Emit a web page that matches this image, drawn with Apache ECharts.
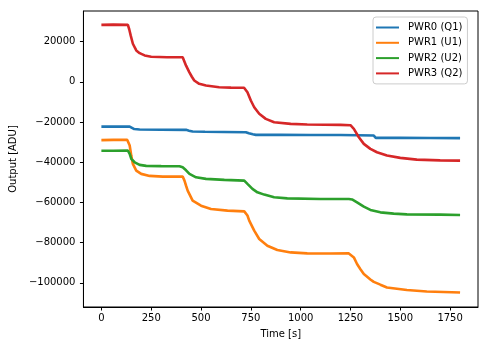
<!DOCTYPE html>
<html>
<head>
<meta charset="utf-8">
<script src="https://cdn.jsdelivr.net/npm/echarts@6/dist/echarts.min.js"></script>
<style>html,body{margin:0;padding:0;background:#fff}#c{width:489px;height:347px}</style>
</head>
<body>
<div id="c"></div>
<script>
const seriesNames = ['PWR0 (Q1)', 'PWR1 (U1)', 'PWR2 (U2)', 'PWR3 (Q2)'];
const xTicks = [0, 250, 500, 750, 1000, 1250, 1500, 1750];
const yTicks = [-100000, -80000, -60000, -40000, -20000, 0, 20000];

const pwr0T = [0, 60, 142, 150, 165, 192, 300, 425, 440, 458, 520, 615, 725, 740, 760, 775, 900, 1050, 1200, 1367, 1372, 1377, 1500, 1650, 1800];
const pwr0V = [-22300, -22300, -22260, -22900, -23500, -23750, -23850, -23900, -24300, -24750, -24850, -24950, -25100, -25600, -26100, -26390, -26400, -26450, -26500, -26740, -27300, -27890, -27900, -27950, -28000];

const pwr1T = [0, 60, 130, 142, 150, 158, 175, 200, 242, 308, 408, 417, 425, 433, 458, 500, 550, 633, 717, 725, 733, 742, 767, 792, 833, 883, 950, 1033, 1150, 1242, 1267, 1283, 1300, 1317, 1350, 1367, 1400, 1433, 1533, 1633, 1800];
const pwr1V = [-29000, -28900, -28900, -31720, -36700, -40830, -44160, -45800, -46800, -47150, -47150, -49150, -51700, -54130, -59130, -61600, -63240, -64080, -64430, -64800, -66500, -69060, -74040, -78180, -81510, -83660, -84850, -85350, -85400, -85350, -87340, -90620, -93200, -95600, -98300, -99500, -100900, -102270, -103570, -104270, -104770];

const pwr2T = [0, 60, 133, 142, 150, 167, 192, 225, 300, 392, 408, 425, 442, 475, 525, 617, 717, 733, 758, 783, 817, 867, 933, 1100, 1242, 1258, 1283, 1317, 1350, 1400, 1467, 1533, 1700, 1800];
const pwr2V = [-34300, -34300, -34210, -35850, -38340, -40030, -41330, -41830, -41950, -42030, -42530, -44000, -45810, -47500, -48300, -48800, -49150, -50790, -53280, -54970, -56110, -57460, -57960, -58260, -58260, -58500, -59950, -62090, -63740, -64930, -65580, -65930, -66080, -66230];

const pwr3T = [0, 60, 133, 140, 147, 158, 175, 192, 217, 250, 330, 408, 415, 425, 441, 454, 466, 491, 525, 591, 650, 716, 733, 750, 767, 792, 825, 867, 950, 1033, 1120, 1200, 1250, 1267, 1292, 1317, 1350, 1383, 1433, 1500, 1583, 1700, 1800];
const pwr3V = [28300, 28400, 28300, 26000, 23060, 18920, 15590, 14240, 13100, 12450, 12200, 12200, 10500, 8000, 4780, 2500, 650, -1000, -1840, -2690, -2900, -3000, -5180, -9310, -12650, -15940, -18430, -20120, -20920, -21260, -21400, -21410, -21600, -23400, -27590, -30870, -33360, -35050, -36700, -37850, -38700, -39100, -39190];

const colors = ['#1f77b4', '#ff7f0e', '#2ca02c', '#d62728'];
const allT = [pwr0T, pwr1T, pwr2T, pwr3T];
const allV = [pwr0V, pwr1V, pwr2V, pwr3V];

const font = 'DejaVu Sans';
const fmt = v => String(v).replace('-', '\u2212');

const chart = echarts.init(document.getElementById('c'), null, {renderer: 'canvas'});
chart.setOption({
  animation: false,
  backgroundColor: '#fff',
  textStyle: {fontFamily: font},
  grid: {left: 82, right: 11, top: 11, bottom: 40, show: true, borderColor: '#000', borderWidth: 1, backgroundColor: 'transparent'},
  legend: {
    orient: 'vertical', left: 373, top: 17,
    padding: [4, 5, 4, 3],
    borderColor: '#cccccc', borderWidth: 1, borderRadius: 3,
    backgroundColor: 'rgba(255,255,255,0.8)',
    icon: 'rect', itemWidth: 23, itemHeight: 2, itemGap: 2.3,
    textStyle: {fontFamily: font, fontSize: 10, color: '#000', lineHeight: 13, padding: [0, 0, 0, 4]},
    data: seriesNames
  },
  xAxis: {
    type: 'value', min: -90, max: 1890,
    name: 'Time [s]', nameLocation: 'middle', nameGap: 22,
    nameTextStyle: {fontFamily: font, fontSize: 10, color: '#000'},
    axisLine: {show: true, onZero: false, lineStyle: {color: '#000', width: 1}},
    axisTick: {show: true, length: 3.5, lineStyle: {color: '#000'}, customValues: xTicks},
    axisLabel: {customValues: xTicks, formatter: fmt, fontFamily: font, fontSize: 10, color: '#000', margin: 6},
    splitLine: {show: false}
  },
  yAxis: {
    type: 'value', min: -112000, max: 35200,
    name: 'Output [ADU]', nameLocation: 'middle', nameGap: 65, nameRotate: 90,
    nameTextStyle: {fontFamily: font, fontSize: 10, color: '#000'},
    axisLine: {show: true, onZero: false, lineStyle: {color: '#000', width: 1}},
    axisTick: {show: true, length: 3.5, lineStyle: {color: '#000'}, customValues: yTicks},
    axisLabel: {customValues: yTicks, formatter: fmt, fontFamily: font, fontSize: 10, color: '#000', margin: 8},
    splitLine: {show: false}
  },
  series: seriesNames.map((n, i) => ({
    name: n, type: 'line', showSymbol: false, symbol: 'none',
    color: colors[i],
    lineStyle: {width: 2.6, color: colors[i]},
    data: allT[i].map((t, k) => [t, allV[i][k]])
  }))
});
</script>
</body>
</html>
